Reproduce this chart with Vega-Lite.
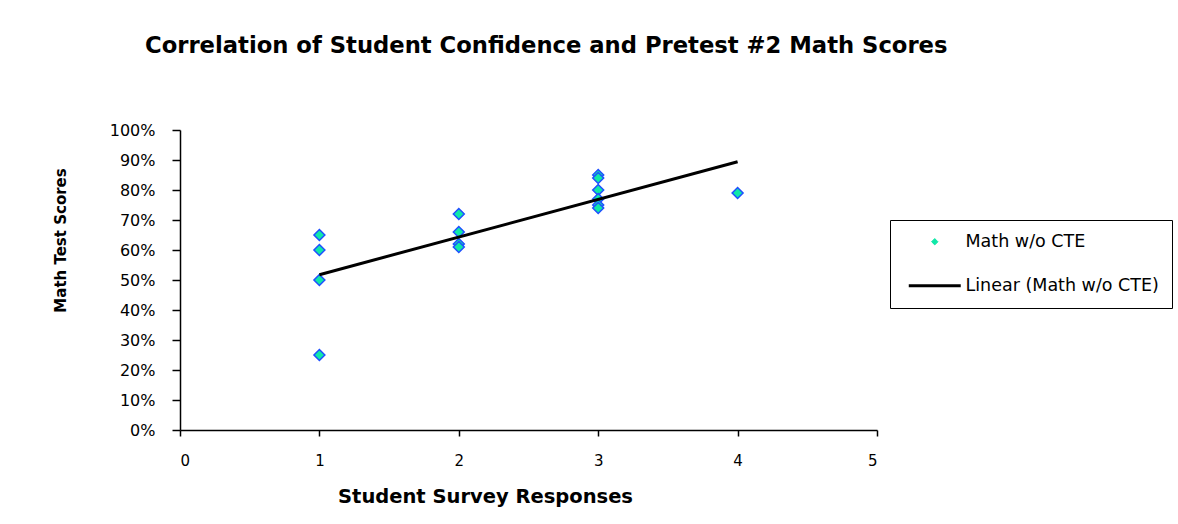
{
  "$schema": "https://vega.github.io/schema/vega-lite/v6.json",
  "autosize": "none",
  "width": 697,
  "height": 300,
  "padding": {"left": 180, "top": 130, "right": 301, "bottom": 94},
  "background": "white",
  "config": {"view": {"stroke": null}},
  "title": {
    "text": "Correlation of Student Confidence and Pretest #2 Math Scores",
    "anchor": "start",
    "frame": "group",
    "dx": -35,
    "offset": 46,
    "baseline": "alphabetic",
    "font": "DejaVu Sans",
    "fontSize": 22.7,
    "fontWeight": "bold",
    "color": "black"
  },
  "data": {
    "values": [
      {"response": 1, "score": 0.65},
      {"response": 1, "score": 0.60},
      {"response": 1, "score": 0.50},
      {"response": 1, "score": 0.25},
      {"response": 2, "score": 0.72},
      {"response": 2, "score": 0.66},
      {"response": 2, "score": 0.62},
      {"response": 2, "score": 0.61},
      {"response": 3, "score": 0.85},
      {"response": 3, "score": 0.84},
      {"response": 3, "score": 0.80},
      {"response": 3, "score": 0.77},
      {"response": 3, "score": 0.75},
      {"response": 3, "score": 0.74},
      {"response": 4, "score": 0.79}
    ]
  },
  "encoding": {
    "x": {
      "field": "response",
      "type": "quantitative",
      "scale": {"domain": [0, 5], "nice": false, "zero": false},
      "axis": {
        "title": "Student Survey Responses",
        "values": [0, 1, 2, 3, 4, 5],
        "grid": false,
        "domainColor": "black",
        "domainWidth": 1.5,
        "tickColor": "black",
        "tickWidth": 1.5,
        "tickSize": 6,
        "labelPadding": 17,
        "labelFont": "DejaVu Sans",
        "labelFontSize": 15,
        "labelColor": "black",
        "titleFont": "DejaVu Sans",
        "titleFontSize": 19.5,
        "titleFontWeight": "bold",
        "titleColor": "black",
        "titleX": 305,
        "titleY": 66,
        "titleBaseline": "middle"
      }
    },
    "y": {
      "field": "score",
      "type": "quantitative",
      "scale": {"domain": [0, 1], "nice": false},
      "axis": {
        "title": "Math Test Scores",
        "format": ".0%",
        "values": [0, 0.1, 0.2, 0.3, 0.4, 0.5, 0.6, 0.7, 0.8, 0.9, 1],
        "grid": false,
        "domainColor": "black",
        "domainWidth": 1.5,
        "tickColor": "black",
        "tickWidth": 1.5,
        "tickSize": 8,
        "labelPadding": 17,
        "labelFont": "DejaVu Sans",
        "labelFontSize": 16,
        "labelColor": "black",
        "titleFont": "DejaVu Sans",
        "titleFontSize": 15,
        "titleFontWeight": "bold",
        "titleColor": "black",
        "titleX": -120,
        "titleY": 110,
        "titleBaseline": "middle",
        "titleAngle": -90
      }
    }
  },
  "layer": [
    {
      "mark": {"type": "point", "shape": "diamond", "filled": true, "size": 120, "stroke": "#1f4fff", "strokeWidth": 1.5, "opacity": 1},
      "encoding": {
        "color": {
          "datum": "Math w/o CTE",
          "type": "nominal",
          "scale": {"domain": ["Math w/o CTE", "Linear (Math w/o CTE)"], "range": ["#10e8a8", "black"]},
          "legend": {
            "title": null,
            "orient": "none",
            "legendX": 710,
            "legendY": 90,
            "padding": 13,
            "strokeColor": "black",
            "symbolOffset": 23,
            "symbolType": {"expr": "datum.value == 'Math w/o CTE' ? 'diamond' : 'stroke'"},
            "symbolSize": {"expr": "datum.value == 'Math w/o CTE' ? 40 : 2700"},
            "symbolFillColor": {"expr": "datum.value == 'Math w/o CTE' ? '#1ee6d0' : 'transparent'"},
            "symbolStrokeColor": {"expr": "datum.value == 'Math w/o CTE' ? '#2a9fff' : 'black'"},
            "symbolStrokeWidth": {"expr": "datum.value == 'Math w/o CTE' ? 1 : 3"},
            "symbolOpacity": 1,
            "rowPadding": 25,
            "labelOffset": 22,
            "labelFont": "DejaVu Sans",
            "labelFontSize": 17.5,
            "labelColor": "black",
            "labelLimit": 400
          }
        }
      }
    },
    {
      "transform": [{"regression": "score", "on": "response", "extent": [1, 4]}],
      "mark": {"type": "line", "strokeWidth": 3, "color": "black"},
      "encoding": {
        "color": {"datum": "Linear (Math w/o CTE)", "type": "nominal"}
      }
    }
  ]
}
